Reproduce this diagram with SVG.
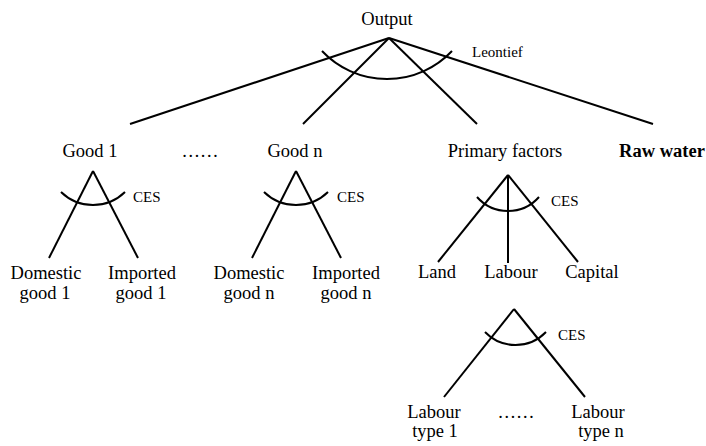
<svg xmlns="http://www.w3.org/2000/svg" width="706" height="446" viewBox="0 0 706 446">
<style>
text{font-family:"Liberation Serif","Times New Roman",serif;fill:#000;}
.n{font-size:18.5px;text-anchor:middle;}
.b{font-weight:bold;}
.l{font-size:15px;}
.e{stroke:#000;stroke-width:2;fill:none;stroke-linecap:butt;}
</style>
<rect width="706" height="446" fill="#fff"/>
<g id="connectors">
<line class="e" x1="389" y1="38" x2="130" y2="124"/>
<line class="e" x1="389" y1="38" x2="303" y2="124"/>
<line class="e" x1="389" y1="38" x2="477" y2="124"/>
<line class="e" x1="389" y1="38" x2="653" y2="124"/>
<path class="e" d="M322,51 A89.4,89.4 0 0 0 452,51"/>
<line class="e" x1="93" y1="171" x2="49" y2="258"/>
<line class="e" x1="93" y1="171" x2="138" y2="258"/>
<path class="e" d="M61,192 A45.9,45.9 0 0 0 125,192"/>
<line class="e" x1="296" y1="171" x2="252" y2="258"/>
<line class="e" x1="296" y1="171" x2="341" y2="258"/>
<path class="e" d="M264,192 A45.9,45.9 0 0 0 328,192"/>
<line class="e" x1="508" y1="175" x2="438" y2="262"/>
<line class="e" x1="508" y1="175" x2="508" y2="263"/>
<line class="e" x1="508" y1="175" x2="578" y2="262"/>
<path class="e" d="M477,197 A41.3,41.3 0 0 0 539,197"/>
<line class="e" x1="514" y1="309" x2="444" y2="397"/>
<line class="e" x1="514" y1="309" x2="585" y2="397"/>
<path class="e" d="M485,332 A42.3,42.3 0 0 0 546,332"/>
<text class="l" x="472" y="57">Leontief</text>
<text class="l" x="133" y="202">CES</text>
<text class="l" x="337" y="202">CES</text>
<text class="l" x="551" y="206">CES</text>
<text class="l" x="558" y="340">CES</text>
</g>
<g id="output"><text class="n" x="387" y="25">Output</text></g>
<g id="good1"><text class="n" x="90" y="157">Good 1</text></g>
<g id="dots1"><text class="n" x="200" y="157">……</text></g>
<g id="goodn"><text class="n" x="295" y="157">Good n</text></g>
<g id="primary"><text class="n" x="505" y="157">Primary factors</text></g>
<g id="rawwater"><text class="n b" x="662" y="157">Raw water</text></g>
<g id="domestic1"><text class="n" x="46" y="279">Domestic</text><text class="n" x="45" y="299">good 1</text></g>
<g id="imported1"><text class="n" x="142" y="279">Imported</text><text class="n" x="141" y="299">good 1</text></g>
<g id="domesticn"><text class="n" x="249" y="279">Domestic</text><text class="n" x="249" y="299">good n</text></g>
<g id="importedn"><text class="n" x="346" y="279">Imported</text><text class="n" x="346" y="299">good n</text></g>
<g id="land"><text class="n" x="437" y="278">Land</text></g>
<g id="labour"><text class="n" x="511" y="278">Labour</text></g>
<g id="capital"><text class="n" x="592" y="278">Capital</text></g>
<g id="labour1"><text class="n" x="434" y="418">Labour</text><text class="n" x="435" y="437">type 1</text></g>
<g id="dots2"><text class="n" x="516" y="418">……</text></g>
<g id="labourn"><text class="n" x="598" y="418">Labour</text><text class="n" x="601" y="437">type n</text></g>
</svg>
